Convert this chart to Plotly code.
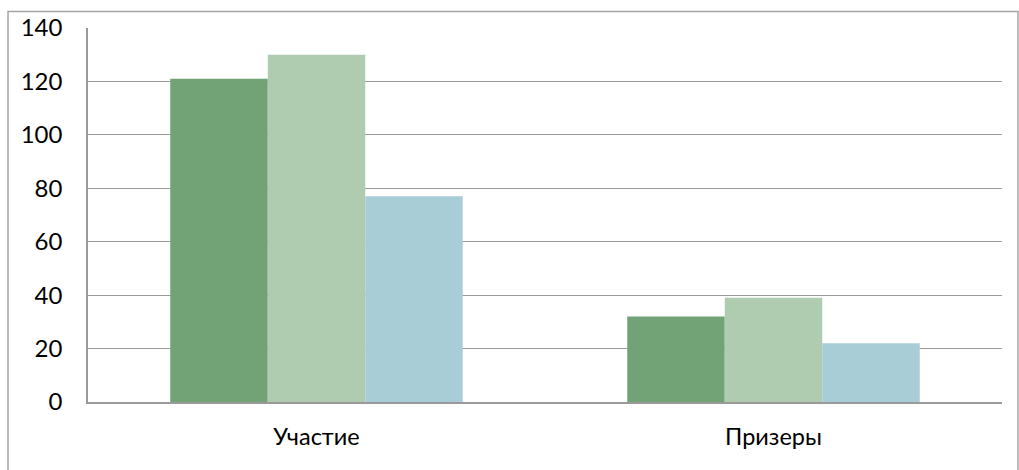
import plotly.graph_objects as go

categories = ["Участие", "Призеры"]
series_a = [121, 32]
series_b = [130, 39]
series_c = [77, 22]
y_ticks = [0, 20, 40, 60, 80, 100, 120, 140]

colors = ["#71A377", "#AFCCB0", "#A8CDD6"]

fig = go.Figure()
for name, vals, col in [("Ряд 1", series_a, colors[0]), ("Ряд 2", series_b, colors[1]), ("Ряд 3", series_c, colors[2])]:
    fig.add_trace(go.Bar(x=categories, y=vals, name=name, marker=dict(color=col, line=dict(width=0))))

L, R, T, B = 88, 17, 28, 68
W, H = 1019, 470
pw, ph = W - L - R, H - T - B

fig.update_layout(
    width=W, height=H,
    margin=dict(l=L, r=R, t=T, b=B, pad=0),
    barmode="group", bargap=0.36, bargroupgap=0,
    plot_bgcolor="white", paper_bgcolor="white",
    showlegend=False,
    font=dict(family="Lato, Open Sans, sans-serif", size=24, color="#000000"),
    xaxis=dict(showgrid=False, showline=True, linecolor="#9a9a9a", linewidth=1.5,
               ticks="", ticklabelstandoff=13, tickfont=dict(size=23.5), automargin=False),
    yaxis=dict(range=[0, 140], tickvals=y_ticks, showgrid=True, gridcolor="#9a9a9a", gridwidth=1.2,
               showline=True, linecolor="#9a9a9a", linewidth=1.5, ticks="",
               ticklabelstandoff=19, zeroline=False, tickfont=dict(size=24), automargin=False),
    shapes=[dict(type="rect", xref="paper", yref="paper",
                 x0=(8 - L) / pw, x1=(1018 - L) / pw,
                 y0=(H - B - 480) / ph, y1=(H - B - 11.5) / ph,
                 line=dict(color="#a6a6a6", width=1.5), fillcolor="rgba(0,0,0,0)", layer="below")],
)

fig.write_html("out.html", config={"displayModeBar": False},
               post_script="document.body.style.margin='0';document.body.style.overflow='hidden';")
